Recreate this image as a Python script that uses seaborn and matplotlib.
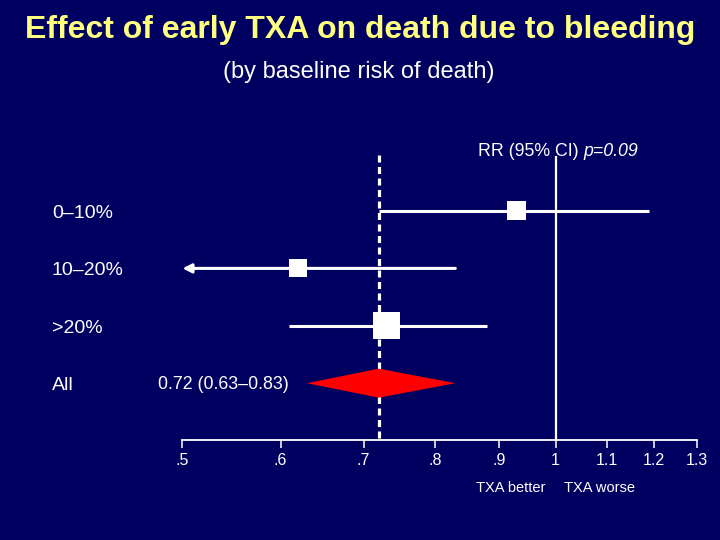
import matplotlib
matplotlib.use("Agg")
import matplotlib.pyplot as plt
import seaborn as sns
import numpy as np
import pandas as pd
from matplotlib.ticker import NullLocator

# ---- data ----
groups = ["0\u201310%", "10\u201320%", ">20%"]
rr_est = [0.93, 0.62, 0.73]
ci_low = [0.72, 0.50, 0.61]
ci_high = [1.19, 0.83, 0.88]
ci_low_truncated = [False, True, False]
box_side_px = [19, 18, 27]

overall_label = "All"
overall_est = 0.72
overall_low = 0.63
overall_high = 0.83
overall_text = "0.72 (0.63\u20130.83)"

tick_values = [0.5, 0.6, 0.7, 0.8, 0.9, 1.0, 1.1, 1.2, 1.3]
tick_labels = [".5", ".6", ".7", ".8", ".9", "1", "1.1", "1.2", "1.3"]

title = "Effect of early TXA on death due to bleeding"
subtitle = "(by baseline risk of death)"
header_main = "RR (95% CI) "
header_p = "p=0.09"
better_text = "TXA better"
worse_text = "TXA worse"

# ---- style ----
BG = "#000060"
WHITE = "#ffffff"
YELLOW = "#ffff80"
RED = "#ff0000"

sns.set_theme(style="white")
plt.rcParams["font.family"] = ["Liberation Sans", "DejaVu Sans"]

fig = plt.figure(figsize=(7.2, 5.4), dpi=100, facecolor=BG)
ax = fig.add_axes([0, 0, 1, 1], facecolor=BG)
ax.set_xscale("log")
ax.set_xlim(0.3563, 1.357)
ax.set_ylim(5.732, -3.676)
ytr = ax.get_yaxis_transform()  # x in axes fraction, y in data

n = len(groups)
rows = list(range(n))
overall_row = n
axis_y = 3.99
top_y = -0.95

# reference lines
ax.vlines(1.0, top_y, axis_y, color=WHITE, lw=1.6, zorder=1)
ax.vlines(overall_est, top_y - 0.02, axis_y, color=WHITE, lw=2.3,
          linestyles=[(0, (2.2, 1.4))], zorder=1)

# CI lines
for i in rows:
    if ci_low_truncated[i]:
        ax.annotate("", xy=(ci_low[i], i), xytext=(ci_high[i], i),
                    arrowprops=dict(arrowstyle="-|>", lw=2.2, color=WHITE,
                                    mutation_scale=13, shrinkA=0, shrinkB=0),
                    zorder=2)
    else:
        ax.hlines(i, ci_low[i], ci_high[i], color=WHITE, lw=2.2, zorder=2)

# squares
df = pd.DataFrame({"rr": rr_est, "row": rows})
sizes = [(s * 0.72) ** 2 for s in box_side_px]
sns.scatterplot(data=df, x="rr", y="row", marker="s", s=sizes, color=WHITE,
                linewidth=0, ax=ax, zorder=3, legend=False)

# overall diamond
h = 0.253
ax.fill([overall_low, overall_est, overall_high, overall_est],
        [overall_row, overall_row - h, overall_row, overall_row + h],
        color=RED, lw=0, zorder=3)

# row labels
for i, g in enumerate(groups + [overall_label]):
    ax.text(52 / 720, i + 0.04, g, color=WHITE, fontsize=14, va="center",
            ha="left", transform=ytr)
ax.text(289 / 720, overall_row + 0.02, overall_text, color=WHITE,
        fontsize=12.8, va="center", ha="right", transform=ytr)

# header
t1 = ax.text(478 / 720, -1.03, header_main, color=WHITE, fontsize=12.8,
             ha="left", va="center", transform=ytr)
ax.annotate(header_p, xy=(1, 0), xycoords=t1, color=WHITE, fontsize=12.8,
            ha="left", va="bottom", style="italic")

# axis
for side in ["top", "left", "right"]:
    ax.spines[side].set_visible(False)
ax.spines["bottom"].set_position(("data", axis_y))
ax.spines["bottom"].set_bounds(0.5, 1.3)
ax.spines["bottom"].set_color(WHITE)
ax.spines["bottom"].set_linewidth(1.3)
ax.set_xticks(tick_values)
ax.set_xticklabels(tick_labels)
ax.xaxis.set_minor_locator(NullLocator())
ax.tick_params(axis="x", direction="out", length=5.5, width=1.1, colors=WHITE,
               labelsize=11.5, pad=4, bottom=True)
ax.set_yticks([])
ax.set_xlabel("")
ax.set_ylabel("")

ax.text(511 / 720, 4.82, better_text, color=WHITE, fontsize=10.5,
        ha="center", va="center", transform=ytr)
ax.text(600 / 720, 4.82, worse_text, color=WHITE, fontsize=10.5,
        ha="center", va="center", transform=ytr)

fig.text(0.5, 1 - 30 / 540, title, color=YELLOW, fontsize=23,
         fontweight="bold", ha="center", va="center")
fig.text(0.498, 1 - 72 / 540, subtitle, color=WHITE, fontsize=17,
         ha="center", va="center")

fig.savefig("out.png", dpi=100, facecolor=BG)
